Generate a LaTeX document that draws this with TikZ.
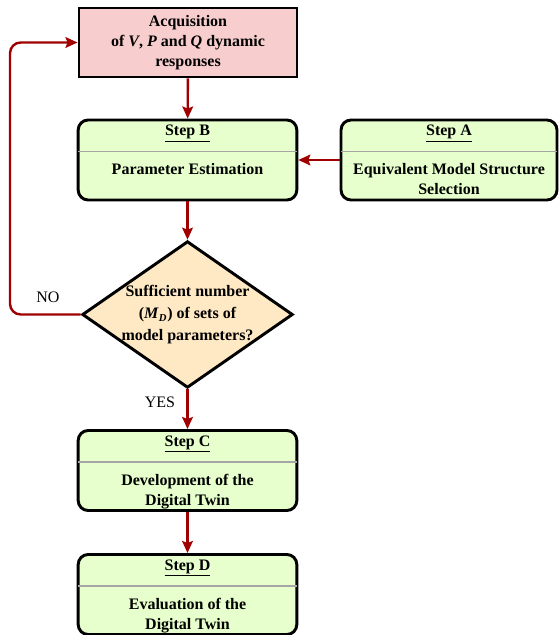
\documentclass[tikz,border=0pt]{standalone}
\usepackage{fontspec}
\setmainfont{Liberation Serif}
\usetikzlibrary{shapes.geometric}
\usetikzlibrary{arrows.meta}
\usetikzlibrary{calc}

\definecolor{acqred}{RGB}{248,205,205}
\definecolor{stepgreen}{RGB}{230,255,204}
\definecolor{condpeach}{RGB}{255,233,196}
\definecolor{flowred}{RGB}{160,0,0}

\tikzset{
  acqbox/.style={draw, line width=2.2pt, fill=acqred, minimum width=163.5pt, minimum height=51.75pt, align=center, inner sep=0pt},
  stepbox/.style={draw, line width=2.2pt, rounded corners=7.5pt, fill=stepgreen, minimum width=164pt, minimum height=60pt, inner sep=0pt},
  condbox/.style={draw, diamond, line width=2.2pt, fill=condpeach, minimum width=158pt, minimum height=110pt, inner sep=0pt},
  steptitle/.style={anchor=center, inner sep=0.75pt},
  stepbody/.style={anchor=north, align=center, inner sep=0.75pt},
  sepline/.style={draw=black!35, line width=1.2pt},
  flowarrow/.style={draw=flowred, line width=1.8pt, -{Stealth[length=9pt, width=8pt, inset=1.5pt]}},
}

\begin{document}
\begin{tikzpicture}[x=0.75pt,y=0.75pt,yscale=-1,xscale=1, font=\fontsize{12}{15}\selectfont\bfseries]
\path[use as bounding box] (0,0) rectangle (558,635);

%Shape: Acquisition box
\node[acqbox] (acq) at (188,42.5) {Acquisition\\of \textit{V}, \textit{P} and \textit{Q} dynamic\\responses};

%Shape: Step B
\node[stepbox] (stepB) at (187.5,160) {};
\draw[sepline] ($(stepB.north west)+(1.5,33)$) -- ($(stepB.north east)+(-1.5,33)$);
\node[steptitle] (stepBtitle) at ($(stepB.north)+(0,15)$) {\underline{Step B}};
% Text Node
\node[stepbody] (stepBbody) at ($(stepB.north)+(0,44)$) {Parameter Estimation};

%Shape: Step A
\node[stepbox, minimum width=162pt] (stepA) at (449,160) {};
\draw[sepline] ($(stepA.north west)+(1.5,33)$) -- ($(stepA.north east)+(-1.5,33)$);
\node[steptitle] (stepAtitle) at ($(stepA.north)+(0,15)$) {\underline{Step A}};
% Text Node
\node[stepbody] (stepAbody) at ($(stepA.north)+(0,44)$) {Equivalent Model Structure\\Selection};

%Shape: Decision
\node[condbox] (cond) at (187.5,314.5) {};
% Text Node
\node[align=center, inner sep=0pt, font=\fontsize{12}{16.5}\selectfont\bfseries] (condtext) at (187.5,315) {Sufficient number\\(\textit{M}\textsubscript{\textit{D}}) of sets of\\model parameters?};

%Shape: Step C
\node[stepbox] (stepC) at (187.5,470.5) {};
\draw[sepline] ($(stepC.north west)+(1.5,33)$) -- ($(stepC.north east)+(-1.5,33)$);
\node[steptitle] (stepCtitle) at ($(stepC.north)+(0,15)$) {\underline{Step C}};
% Text Node
\node[stepbody] (stepCbody) at ($(stepC.north)+(0,44)$) {Development of the\\Digital Twin};

%Shape: Step D
\node[stepbox] (stepD) at (187.5,594.5) {};
\draw[sepline] ($(stepD.north west)+(1.5,33)$) -- ($(stepD.north east)+(-1.5,33)$);
\node[steptitle] (stepDtitle) at ($(stepD.north)+(0,15)$) {\underline{Step D}};
% Text Node
\node[stepbody] (stepDbody) at ($(stepD.north)+(0,44)$) {Evaluation of the\\Digital Twin};

% Text Node
\node[font=\fontsize{12}{14}\selectfont, inner sep=0.75pt] (nolabel) at (48,297) {NO};
% Text Node
\node[font=\fontsize{12}{14}\selectfont, inner sep=0.75pt] (yeslabel) at (160,402) {YES};

% Connection
\draw[flowarrow] (acq) -- (stepB);
\draw[flowarrow] (stepA) -- (stepB);
\draw[flowarrow] (stepB) -- (cond);
\draw[flowarrow] (cond) -- (stepC);
\draw[flowarrow] (stepC) -- (stepD);
\coordinate (loopx) at (10,0);
\draw[flowarrow, rounded corners=8] (cond.west) -- (cond.west -| loopx) |- (acq.west);

\end{tikzpicture}
\end{document}
